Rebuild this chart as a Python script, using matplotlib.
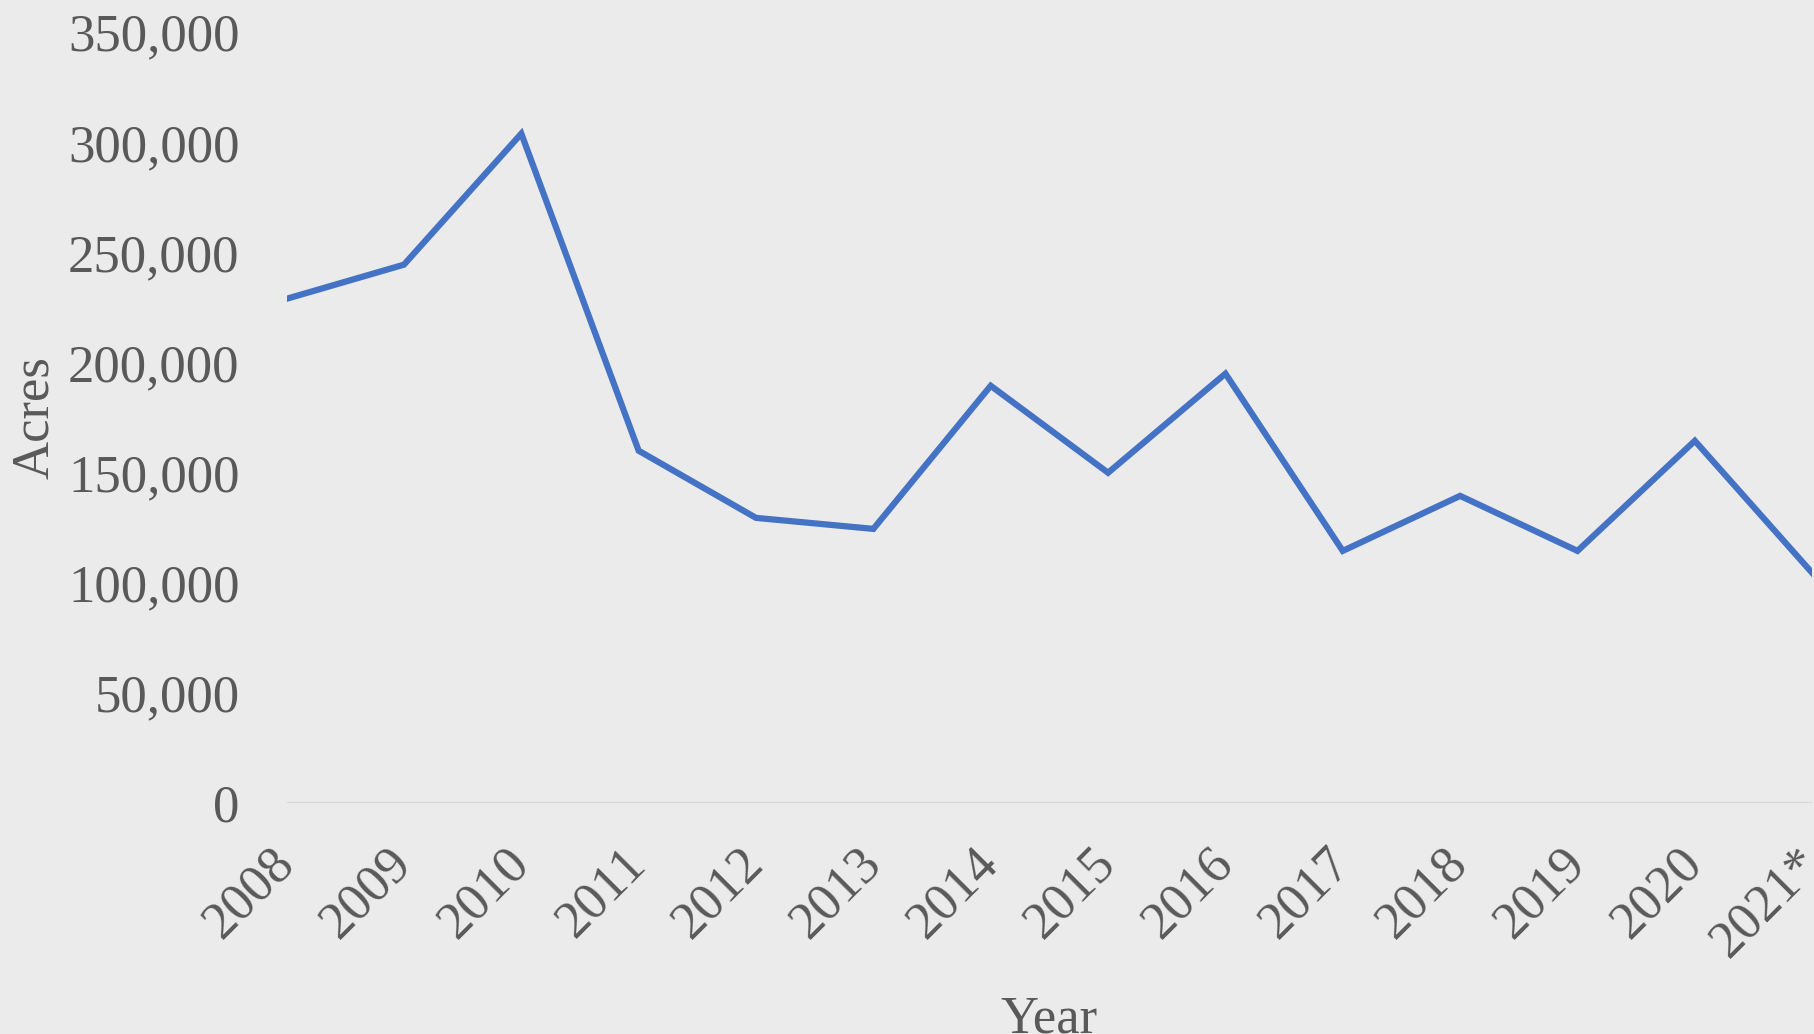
import matplotlib
matplotlib.use("Agg")
import matplotlib.pyplot as plt
from matplotlib.ticker import FuncFormatter

# --- data ---
years = ["2008", "2009", "2010", "2011", "2012", "2013", "2014",
         "2015", "2016", "2017", "2018", "2019", "2020", "2021*"]
acres = [229000, 244500, 304000, 160000, 129500, 124500, 189500,
         150000, 195000, 114500, 139500, 114500, 164500, 104500]

text_color = "#595959"
line_color = "#4472C4"
bg_color = "#ebebeb"

plt.rcParams["font.family"] = ["Liberation Serif", "DejaVu Serif"]

fig = plt.figure(figsize=(18.14, 10.34), dpi=100, facecolor=bg_color)
ax = fig.add_axes([0.158, 0.2234, 0.841, 0.7453])
ax.set_facecolor(bg_color)

x = list(range(len(years)))
ax.plot(x, acres, color=line_color, linewidth=4.5, solid_joinstyle="miter", zorder=3)

# baseline at zero only, no other grid
ax.axhline(0, color="#d6d6d6", linewidth=1.5, zorder=1)

ax.set_xlim(0, len(years) - 1)
ax.set_ylim(0, 350000)
ax.set_yticks(range(0, 350001, 50000))
ax.yaxis.set_major_formatter(FuncFormatter(lambda v, p: f"{int(v):,}"))

ax.set_xticks(x)
ax.set_xticklabels(years, rotation=45, ha="right", va="center",
                   rotation_mode="anchor")

for s in ax.spines.values():
    s.set_visible(False)

ax.tick_params(axis="y", length=0, pad=34, labelsize=38, labelcolor=text_color)
ax.tick_params(axis="x", length=0, pad=38, labelsize=38, labelcolor=text_color)

ax.set_ylabel("Acres", fontsize=38, color=text_color, labelpad=0)
ax.yaxis.set_label_coords(-0.149, 0.5)
ax.set_xlabel("Year", fontsize=38, color=text_color)
ax.xaxis.set_label_coords(0.5, -0.25)

fig.savefig("out.png", dpi=100, facecolor=bg_color)
